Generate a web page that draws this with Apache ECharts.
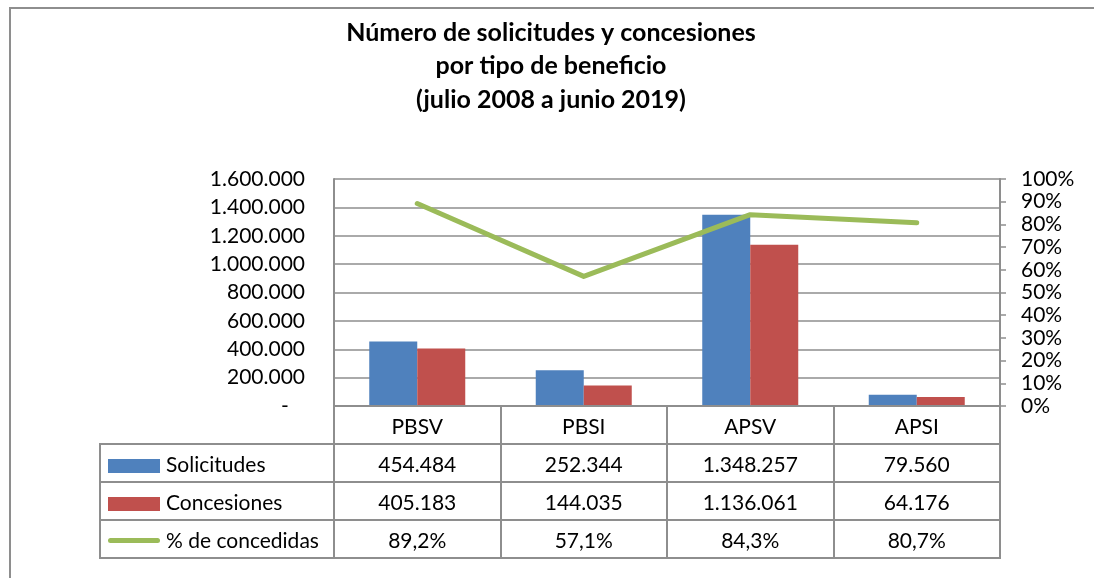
<!DOCTYPE html>
<html>
<head>
<meta charset="utf-8">
<script src="https://cdn.jsdelivr.net/npm/echarts@6/dist/echarts.min.js"></script>
<style>
  html, body { margin: 0; padding: 0; background: #fff; }
  body { width: 1094px; height: 578px; position: relative; overflow: hidden; font-family: Lato, sans-serif; }
  .edge { position: absolute; background: #8e8e8e; }
  #edgeTop { left: 9px; top: 7px; width: 1085px; height: 2px; }
  #edgeLeft { left: 9px; top: 7px; width: 2px; height: 571px; }
  #chart { position: absolute; left: 0; top: 0; width: 1094px; height: 578px; }
  #dataTable { position: absolute; left: 99px; top: 405px; border-collapse: collapse; table-layout: fixed; font-size: 21px; color: #000; }
  #dataTable td { border: 2px solid #8e8e8e; text-align: center; padding: 0; height: 36px; white-space: nowrap; }
  #dataTable td.blank { border: none; }
  #dataTable td.name { text-align: left; }
  .key { display: inline-block; width: 52px; height: 14px; margin: 0 6px 0 7px; vertical-align: -1px; }
  .key.line { height: 5px; border-radius: 3px; vertical-align: 5px; }
</style>
</head>
<body>
<div class="edge" id="edgeTop"></div>
<div class="edge" id="edgeLeft"></div>
<div id="chart"></div>
<table id="dataTable"></table>
<script>
const categories = ['PBSV', 'PBSI', 'APSV', 'APSI'];
const solicitudes = [454484, 252344, 1348257, 79560];
const concesiones = [405183, 144035, 1136061, 64176];
const pctConcedidas = [0.892, 0.571, 0.843, 0.807];
const seriesNames = ['Solicitudes', 'Concesiones', '% de concedidas'];
const colors = ['#4F81BD', '#C0504D', '#9BBB59'];

const fmtMiles = v => v === 0 ? '-   ' : String(v).replace(/\B(?=(\d{3})+(?!\d))/g, '.');
const fmtPct = v => (v * 100).toFixed(1).replace('.', ',') + '%';

const chartDom = document.getElementById('chart');
const myChart = echarts.init(chartDom);

const axisGray = '#8e8e8e';

const option = {
    animation: false,
    title: {
        text: 'Número de solicitudes y concesiones\npor tipo de beneficio\n(julio 2008 a junio 2019)',
        left: 546,
        top: 11,
        textAlign: 'center',
        textStyle: { fontFamily: 'Lato', fontWeight: 'bold', fontSize: 25, lineHeight: 33.5, color: '#000' }
    },
    grid: { left: 334, right: 94, top: 179, bottom: 172, containLabel: false },
    xAxis: {
        type: 'category',
        data: categories,
        axisLabel: { show: false },
        axisTick: { show: false },
        axisLine: { lineStyle: { color: axisGray, width: 2 } }
    },
    yAxis: [
        {
            type: 'value',
            min: 0,
            max: 1600000,
            interval: 200000,
            axisLine: { show: true, lineStyle: { color: axisGray, width: 2 } },
            axisTick: { show: false },
            splitLine: { lineStyle: { color: axisGray, width: 1.5 } },
            axisLabel: { formatter: fmtMiles, fontFamily: 'Lato', fontSize: 21, color: '#000', margin: 29 }
        },
        {
            type: 'value',
            min: 0,
            max: 1,
            interval: 0.1,
            axisLine: { show: true, lineStyle: { color: axisGray, width: 2 } },
            axisTick: { show: true, length: 6, lineStyle: { color: axisGray, width: 1.5 } },
            splitLine: { show: false },
            axisLabel: { formatter: v => Math.round(v * 100) + '%', fontFamily: 'Lato', fontSize: 21, color: '#000', margin: 21 }
        }
    ],
    series: [
        {
            name: seriesNames[0],
            type: 'bar',
            data: solicitudes,
            barWidth: 48,
            barGap: '0%',
            itemStyle: { color: colors[0] }
        },
        {
            name: seriesNames[1],
            type: 'bar',
            data: concesiones,
            barWidth: 48,
            itemStyle: { color: colors[1] }
        },
        {
            name: seriesNames[2],
            type: 'line',
            yAxisIndex: 1,
            data: pctConcedidas,
            symbol: 'none',
            z: 5,
            lineStyle: { color: colors[2], width: 5, cap: 'round', join: 'round' }
        }
    ]
};

myChart.setOption(option);

// data table under the chart
const table = document.getElementById('dataTable');
const colgroup = document.createElement('colgroup');
[234, 166.5, 166.5, 166.5, 166.5].forEach(w => {
    const col = document.createElement('col');
    col.style.width = w + 'px';
    colgroup.appendChild(col);
});
table.appendChild(colgroup);

const headRow = document.createElement('tr');
const blank = document.createElement('td');
blank.className = 'blank';
headRow.appendChild(blank);
categories.forEach(c => {
    const td = document.createElement('td');
    td.textContent = c;
    headRow.appendChild(td);
});
table.appendChild(headRow);

const rows = [
    { values: solicitudes, fmt: fmtMiles, key: '' },
    { values: concesiones, fmt: fmtMiles, key: '' },
    { values: pctConcedidas, fmt: fmtPct, key: 'line' }
];
rows.forEach((r, i) => {
    const tr = document.createElement('tr');
    const nameCell = document.createElement('td');
    nameCell.className = 'name';
    const key = document.createElement('span');
    key.className = 'key ' + r.key;
    key.style.background = colors[i];
    nameCell.appendChild(key);
    nameCell.appendChild(document.createTextNode(seriesNames[i]));
    tr.appendChild(nameCell);
    r.values.forEach(v => {
        const td = document.createElement('td');
        td.textContent = r.fmt(v);
        tr.appendChild(td);
    });
    table.appendChild(tr);
});
</script>
</body>
</html>
